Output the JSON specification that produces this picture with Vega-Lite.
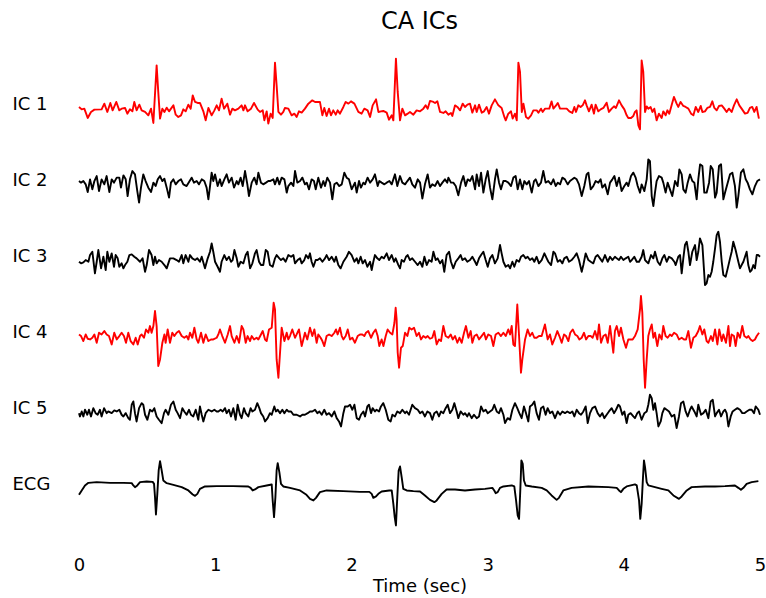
{
"$schema": "https://vega.github.io/schema/vega-lite/v6.json",
"padding": {"left": 12, "top": 9, "right": 0, "bottom": 0},
"background": "white",
"title": {"text": "CA ICs", "fontSize": 24, "font": "DejaVu Sans", "fontWeight": "normal", "color": "black", "anchor": "middle", "frame": "group", "offset": 24},
"config": {"view": {"stroke": null}, "axis": {"grid": false}},
"bounds": "flush",
"spacing": 0,
"datasets": {
"ic1": [
{"t":0.000,"v":-4.3},{"t":0.020,"v":-6.7},{"t":0.039,"v":-6},{"t":0.064,"v":-15.3},{"t":0.088,"v":-9.3},{"t":0.113,"v":-7},{"t":0.166,"v":-6.7},{"t":0.186,"v":-1},{"t":0.208,"v":-9.3},{"t":0.230,"v":-0.3},{"t":0.247,"v":-7.7},{"t":0.274,"v":0.7},{"t":0.296,"v":-7.7},{"t":0.313,"v":-6},{"t":0.338,"v":-5.3},{"t":0.355,"v":-11},{"t":0.374,"v":-6.7},{"t":0.392,"v":-8.7},{"t":0.406,"v":0.7},{"t":0.423,"v":-7.7},{"t":0.443,"v":-2},{"t":0.460,"v":-7.7},{"t":0.485,"v":-9.3},{"t":0.509,"v":-12.7},{"t":0.529,"v":-6},{"t":0.546,"v":-20.3},{"t":0.570,"v":37.3},{"t":0.582,"v":10.7},{"t":0.595,"v":-16},{"t":0.612,"v":-6},{"t":0.627,"v":-9.3},{"t":0.644,"v":-5},{"t":0.661,"v":-8.7},{"t":0.693,"v":-2.7},{"t":0.710,"v":-12},{"t":0.729,"v":-14.3},{"t":0.749,"v":-12.7},{"t":0.766,"v":-6.7},{"t":0.783,"v":-8.7},{"t":0.803,"v":-2},{"t":0.820,"v":-6},{"t":0.835,"v":7.3},{"t":0.852,"v":0.7},{"t":0.871,"v":-0.3},{"t":0.888,"v":-0.3},{"t":0.913,"v":-8.7},{"t":0.930,"v":-17.7},{"t":0.950,"v":-5.3},{"t":0.974,"v":-12.7},{"t":0.994,"v":-7.7},{"t":1.011,"v":-2.7},{"t":1.028,"v":-7.7},{"t":1.047,"v":4},{"t":1.065,"v":-6},{"t":1.089,"v":-1},{"t":1.109,"v":-12},{"t":1.126,"v":-6},{"t":1.145,"v":-7.7},{"t":1.170,"v":-6},{"t":1.194,"v":-2.7},{"t":1.207,"v":-7.7},{"t":1.219,"v":-2.7},{"t":1.238,"v":-8.7},{"t":1.263,"v":-6},{"t":1.285,"v":-0.3},{"t":1.312,"v":-7},{"t":1.329,"v":-9.3},{"t":1.349,"v":-7.7},{"t":1.361,"v":-17.7},{"t":1.378,"v":-8.7},{"t":1.390,"v":-21},{"t":1.407,"v":-11},{"t":1.422,"v":-15.3},{"t":1.439,"v":40},{"t":1.451,"v":17.3},{"t":1.464,"v":-9.3},{"t":1.483,"v":-12},{"t":1.500,"v":-9.3},{"t":1.512,"v":-5.3},{"t":1.537,"v":-6},{"t":1.561,"v":-12.7},{"t":1.581,"v":-11},{"t":1.598,"v":-14.3},{"t":1.615,"v":-8.7},{"t":1.635,"v":-10},{"t":1.659,"v":-6},{"t":1.684,"v":-1},{"t":1.713,"v":2.3},{"t":1.733,"v":0.7},{"t":1.769,"v":0.7},{"t":1.787,"v":-12.7},{"t":1.801,"v":-5.3},{"t":1.818,"v":-13.3},{"t":1.836,"v":-6},{"t":1.850,"v":-12.7},{"t":1.867,"v":-7.7},{"t":1.885,"v":-12},{"t":1.899,"v":-7.7},{"t":1.916,"v":-11},{"t":1.941,"v":-4.3},{"t":1.958,"v":0.7},{"t":1.978,"v":-1},{"t":1.997,"v":1.3},{"t":2.022,"v":-1},{"t":2.051,"v":-9.3},{"t":2.075,"v":-11},{"t":2.095,"v":-6},{"t":2.119,"v":-7.7},{"t":2.137,"v":-14.3},{"t":2.156,"v":-2.7},{"t":2.181,"v":3.3},{"t":2.198,"v":-9.3},{"t":2.217,"v":-8.7},{"t":2.234,"v":-8.3},{"t":2.259,"v":-10},{"t":2.276,"v":-17},{"t":2.296,"v":-12.7},{"t":2.308,"v":-17.7},{"t":2.327,"v":44},{"t":2.340,"v":10.7},{"t":2.357,"v":-17.7},{"t":2.374,"v":-6},{"t":2.394,"v":-12.7},{"t":2.413,"v":-11},{"t":2.430,"v":-9.3},{"t":2.455,"v":-12},{"t":2.479,"v":-7.7},
{"t":2.504,"v":-8.7},{"t":2.528,"v":-6},{"t":2.545,"v":-2.7},{"t":2.560,"v":-6},{"t":2.577,"v":1.7},{"t":2.602,"v":0.7},{"t":2.614,"v":-0.3},{"t":2.631,"v":1.3},{"t":2.651,"v":-9.3},{"t":2.675,"v":-10.3},{"t":2.692,"v":-8.7},{"t":2.712,"v":-12},{"t":2.731,"v":-10.3},{"t":2.741,"v":-13.3},{"t":2.761,"v":-2.7},{"t":2.778,"v":-4.3},{"t":2.798,"v":-7.7},{"t":2.817,"v":-1},{"t":2.834,"v":-4.3},{"t":2.852,"v":-2},{"t":2.871,"v":-1},{"t":2.888,"v":-10},{"t":2.908,"v":-2.7},{"t":2.920,"v":-9.3},{"t":2.937,"v":-2},{"t":2.957,"v":-10},{"t":2.974,"v":-8.7},{"t":2.993,"v":-4.3},{"t":3.010,"v":-11},{"t":3.030,"v":-2.7},{"t":3.054,"v":3.3},{"t":3.079,"v":-2.7},{"t":3.103,"v":-5.3},{"t":3.123,"v":-14.3},{"t":3.133,"v":-17.7},{"t":3.152,"v":-11},{"t":3.172,"v":-8.7},{"t":3.184,"v":-16},{"t":3.201,"v":-11},{"t":3.214,"v":-17.7},{"t":3.226,"v":40},{"t":3.238,"v":30.7},{"t":3.251,"v":-9.3},{"t":3.263,"v":-1},{"t":3.282,"v":-14.3},{"t":3.299,"v":-16},{"t":3.319,"v":-12.7},{"t":3.336,"v":-7.7},{"t":3.361,"v":-7.7},{"t":3.373,"v":-10},{"t":3.392,"v":-6},{"t":3.404,"v":-9.3},{"t":3.422,"v":-6},{"t":3.453,"v":-6},{"t":3.470,"v":1.3},{"t":3.483,"v":-6},{"t":3.500,"v":-3.3},{"t":3.515,"v":-0.3},{"t":3.532,"v":-6},{"t":3.581,"v":-6},{"t":3.600,"v":-8.7},{"t":3.622,"v":-10.3},{"t":3.637,"v":-4.3},{"t":3.649,"v":-9.3},{"t":3.666,"v":-2.7},{"t":3.683,"v":-4.3},{"t":3.698,"v":-2.7},{"t":3.715,"v":2.3},{"t":3.727,"v":-2.7},{"t":3.744,"v":-8.7},{"t":3.764,"v":-2},{"t":3.781,"v":-11},{"t":3.793,"v":-2},{"t":3.813,"v":-8.7},{"t":3.830,"v":-6.7},{"t":3.850,"v":-5.3},{"t":3.874,"v":0},{"t":3.891,"v":-9.3},{"t":3.911,"v":-6},{"t":3.928,"v":-3.7},{"t":3.942,"v":-5.3},{"t":3.965,"v":2.3},{"t":3.984,"v":-2.7},{"t":4.004,"v":-6.7},{"t":4.021,"v":-12.7},{"t":4.033,"v":-15.3},{"t":4.053,"v":-15.3},{"t":4.070,"v":-13.3},{"t":4.082,"v":-9.3},{"t":4.094,"v":-7.7},{"t":4.107,"v":-22.7},{"t":4.119,"v":-26.7},{"t":4.131,"v":42.3},{"t":4.143,"v":30.7},{"t":4.156,"v":-9.3},{"t":4.168,"v":-3.7},{"t":4.180,"v":-6},{"t":4.197,"v":-4.3},{"t":4.210,"v":-9.3},{"t":4.224,"v":-6},{"t":4.241,"v":-17.7},{"t":4.258,"v":-11},{"t":4.278,"v":-15.3},{"t":4.290,"v":-8.7},{"t":4.307,"v":-12.7},{"t":4.320,"v":-7.7},{"t":4.334,"v":-11},{"t":4.351,"v":-2.7},{"t":4.368,"v":5.7},{"t":4.388,"v":-1},{"t":4.400,"v":-4.3},{"t":4.417,"v":0.7},{"t":4.437,"v":-3.3},{"t":4.454,"v":-4.3},{"t":4.474,"v":-6},{"t":4.494,"v":-11},{"t":4.511,"v":-12.7},{"t":4.528,"v":-4.3},{"t":4.547,"v":-9.3},{"t":4.565,"v":-3.3},{"t":4.577,"v":-9.3},{"t":4.596,"v":-8.7},{"t":4.613,"v":-5.3},{"t":4.633,"v":-4.3},{"t":4.650,"v":1.3},{"t":4.665,"v":-5.3},{"t":4.682,"v":-7.7},{"t":4.699,"v":-3.3},{"t":4.719,"v":-2.7},{"t":4.738,"v":-6},{"t":4.755,"v":-9.3},{"t":4.772,"v":-6},{"t":4.792,"v":-9.3},{"t":4.809,"v":-2.7},{"t":4.829,"v":3.3},{"t":4.848,"v":-2.7},{"t":4.865,"v":-6},{"t":4.890,"v":-11},{"t":4.909,"v":-10.3},{"t":4.926,"v":-5.3},{"t":4.943,"v":-4.3},{"t":4.958,"v":-9.3},{"t":4.975,"v":-4.3},{"t":4.992,"v":-16}
],
"ic2": [
{"t":0,"v":-2.4},{"t":0.015,"v":-4},{"t":0.032,"v":-2.4},{"t":0.049,"v":-5.7},{"t":0.064,"v":-13.4},{"t":0.081,"v":-0.7},{"t":0.098,"v":-10.7},{"t":0.113,"v":-2.4},{"t":0.130,"v":2.6},{"t":0.147,"v":-12.4},{"t":0.166,"v":-0.7},{"t":0.186,"v":-5.7},{"t":0.203,"v":2.6},{"t":0.223,"v":-13.4},{"t":0.240,"v":-0.7},{"t":0.257,"v":-4},{"t":0.277,"v":1},{"t":0.296,"v":1},{"t":0.308,"v":-9},{"t":0.326,"v":3.3},{"t":0.343,"v":-0.7},{"t":0.357,"v":-17.4},{"t":0.374,"v":-0.7},{"t":0.392,"v":7.6},{"t":0.411,"v":4.3},{"t":0.428,"v":-12.4},{"t":0.441,"v":-24},{"t":0.455,"v":-9},{"t":0.472,"v":4.3},{"t":0.489,"v":-2.4},{"t":0.509,"v":-9},{"t":0.529,"v":-13.4},{"t":0.546,"v":-4},{"t":0.563,"v":-7.4},{"t":0.578,"v":-0.7},{"t":0.595,"v":2.6},{"t":0.612,"v":-2.4},{"t":0.627,"v":0},{"t":0.644,"v":-9},{"t":0.661,"v":-19},{"t":0.675,"v":-4},{"t":0.693,"v":-0.7},{"t":0.710,"v":-5.7},{"t":0.729,"v":-2.4},{"t":0.749,"v":-0.7},{"t":0.766,"v":-5.7},{"t":0.790,"v":-7.4},{"t":0.808,"v":-3.4},{"t":0.827,"v":1},{"t":0.844,"v":-4},{"t":0.864,"v":-2.4},{"t":0.881,"v":-5.7},{"t":0.901,"v":-0.7},{"t":0.920,"v":-2.4},{"t":0.937,"v":-9},{"t":0.950,"v":-20.7},{"t":0.962,"v":-7.4},{"t":0.974,"v":6},{"t":0.986,"v":-2.4},{"t":0.999,"v":4.3},{"t":1.018,"v":-7.4},{"t":1.035,"v":-0.7},{"t":1.047,"v":-7.4},{"t":1.067,"v":-0.7},{"t":1.084,"v":4.3},{"t":1.101,"v":-4},{"t":1.121,"v":1},{"t":1.138,"v":-9},{"t":1.158,"v":-2.4},{"t":1.170,"v":-5.7},{"t":1.187,"v":1},{"t":1.202,"v":-7.4},{"t":1.219,"v":7.6},{"t":1.236,"v":-5.7},{"t":1.248,"v":-17.4},{"t":1.268,"v":-4},{"t":1.287,"v":1},{"t":1.304,"v":-5.7},{"t":1.317,"v":6},{"t":1.336,"v":-4},{"t":1.353,"v":-5.7},{"t":1.373,"v":-4},{"t":1.390,"v":-2.4},{"t":1.402,"v":-2.4},{"t":1.427,"v":-0.7},{"t":1.439,"v":-5.7},{"t":1.456,"v":1},{"t":1.471,"v":-5.7},{"t":1.488,"v":1},{"t":1.508,"v":-0.7},{"t":1.525,"v":-14},{"t":1.537,"v":-7.4},{"t":1.557,"v":-4},{"t":1.574,"v":-7.4},{"t":1.586,"v":7.6},{"t":1.603,"v":-4},{"t":1.623,"v":-2.4},{"t":1.640,"v":1},{"t":1.659,"v":-5.7},{"t":1.672,"v":-4},{"t":1.689,"v":-10.7},{"t":1.708,"v":-0.7},{"t":1.725,"v":-2.4},{"t":1.738,"v":-10.7},{"t":1.757,"v":1},{"t":1.777,"v":-9},{"t":1.794,"v":-2.4},{"t":1.806,"v":-7.4},{"t":1.823,"v":1},{"t":1.843,"v":-4},{"t":1.860,"v":-20.7},{"t":1.875,"v":-5.7},{"t":1.892,"v":-4},{"t":1.911,"v":-7.4},{"t":1.929,"v":-5.7},{"t":1.948,"v":6},{"t":1.965,"v":1},{"t":1.982,"v":-0.7},{"t":2.002,"v":-10.7},{"t":2.026,"v":-4},{"t":2.039,"v":-14},{"t":2.056,"v":-2.4},{"t":2.070,"v":-9},{"t":2.088,"v":-4},{"t":2.100,"v":-5.7},{"t":2.119,"v":1},{"t":2.137,"v":-4},{"t":2.156,"v":-0.7},{"t":2.173,"v":4.3},{"t":2.193,"v":-7.4},{"t":2.205,"v":-2.4},{"t":2.222,"v":-4},{"t":2.242,"v":-5.7},{"t":2.259,"v":-4},{"t":2.279,"v":-2.4},{"t":2.296,"v":-5.7},{"t":2.320,"v":4.3},{"t":2.337,"v":-7.4},{"t":2.357,"v":2.6},{"t":2.374,"v":-4},{"t":2.394,"v":-5.7},{"t":2.411,"v":-2.4},{"t":2.430,"v":1},{"t":2.447,"v":-5.7},{"t":2.467,"v":-9},
{"t":2.487,"v":-0.7},{"t":2.504,"v":-4},{"t":2.521,"v":-20},{"t":2.540,"v":-5.7},{"t":2.560,"v":4.3},{"t":2.577,"v":-9},{"t":2.594,"v":-5.7},{"t":2.614,"v":-7.4},{"t":2.633,"v":-2.4},{"t":2.651,"v":-7.4},{"t":2.668,"v":-4},{"t":2.687,"v":-0.7},{"t":2.704,"v":-4},{"t":2.712,"v":1},{"t":2.731,"v":-4},{"t":2.748,"v":-4},{"t":2.766,"v":-7.4},{"t":2.785,"v":-16.7},{"t":2.805,"v":-4},{"t":2.822,"v":2.6},{"t":2.839,"v":-7.4},{"t":2.854,"v":-0.7},{"t":2.871,"v":-2.4},{"t":2.888,"v":2.6},{"t":2.908,"v":-10.7},{"t":2.920,"v":4.3},{"t":2.937,"v":-7.4},{"t":2.952,"v":6},{"t":2.969,"v":-14},{"t":2.986,"v":-0.7},{"t":3.001,"v":7.6},{"t":3.018,"v":-9},{"t":3.035,"v":-20.7},{"t":3.054,"v":-0.7},{"t":3.067,"v":9.3},{"t":3.084,"v":-4},{"t":3.098,"v":-10.7},{"t":3.116,"v":-2.4},{"t":3.133,"v":-2.4},{"t":3.152,"v":-4},{"t":3.172,"v":-7.4},{"t":3.189,"v":1},{"t":3.206,"v":2.6},{"t":3.221,"v":-10.7},{"t":3.238,"v":-0.7},{"t":3.255,"v":-10.7},{"t":3.270,"v":-2.4},{"t":3.287,"v":-5.7},{"t":3.304,"v":-2.4},{"t":3.324,"v":-14},{"t":3.341,"v":-2.4},{"t":3.353,"v":-0.7},{"t":3.373,"v":-7.4},{"t":3.392,"v":-4},{"t":3.409,"v":7.6},{"t":3.426,"v":-4},{"t":3.446,"v":-2.4},{"t":3.466,"v":-5.7},{"t":3.483,"v":-0.7},{"t":3.500,"v":-7.4},{"t":3.515,"v":-4},{"t":3.532,"v":-5.7},{"t":3.549,"v":1},{"t":3.568,"v":-0.7},{"t":3.588,"v":-5.7},{"t":3.605,"v":-2.4},{"t":3.622,"v":-0.7},{"t":3.637,"v":1},{"t":3.654,"v":-0.7},{"t":3.671,"v":-5.7},{"t":3.691,"v":-17.4},{"t":3.710,"v":-7.4},{"t":3.727,"v":4.3},{"t":3.740,"v":6},{"t":3.757,"v":-10.7},{"t":3.776,"v":-7.4},{"t":3.793,"v":-2.4},{"t":3.813,"v":-4},{"t":3.830,"v":-0.7},{"t":3.842,"v":-9},{"t":3.862,"v":-5.7},{"t":3.882,"v":-15.7},{"t":3.899,"v":-4},{"t":3.916,"v":-0.7},{"t":3.931,"v":2.6},{"t":3.948,"v":-7.4},{"t":3.965,"v":1},{"t":3.984,"v":-12.4},{"t":4.004,"v":-7.4},{"t":4.021,"v":-4},{"t":4.033,"v":-7.4},{"t":4.053,"v":2.6},{"t":4.070,"v":6},{"t":4.087,"v":1},{"t":4.102,"v":-7.4},{"t":4.119,"v":-14},{"t":4.131,"v":-5.7},{"t":4.151,"v":-12.4},{"t":4.168,"v":-0.7},{"t":4.180,"v":19.3},{"t":4.192,"v":17.6},{"t":4.205,"v":-17.4},{"t":4.217,"v":-27.4},{"t":4.229,"v":-14},{"t":4.241,"v":-2.4},{"t":4.258,"v":2.6},{"t":4.278,"v":1},{"t":4.290,"v":-4},{"t":4.307,"v":-14},{"t":4.322,"v":-4},{"t":4.339,"v":-10.7},{"t":4.356,"v":-17.4},{"t":4.376,"v":-2.4},{"t":4.395,"v":-7.4},{"t":4.408,"v":9.3},{"t":4.425,"v":4.3},{"t":4.437,"v":-10.7},{"t":4.454,"v":-14},{"t":4.469,"v":-4},{"t":4.486,"v":4.3},{"t":4.503,"v":-2.4},{"t":4.518,"v":-4},{"t":4.535,"v":-20.7},{"t":4.547,"v":-0.7},{"t":4.560,"v":14.3},{"t":4.577,"v":12.6},{"t":4.591,"v":-14},{"t":4.608,"v":-14},{"t":4.626,"v":-4},{"t":4.638,"v":12.6},{"t":4.653,"v":9.3},{"t":4.670,"v":-19},{"t":4.682,"v":-14},{"t":4.699,"v":12.6},{"t":4.714,"v":14.3},{"t":4.731,"v":-20.7},{"t":4.743,"v":-14},{"t":4.763,"v":-4},{"t":4.780,"v":4.3},{"t":4.797,"v":6},{"t":4.816,"v":-7.4},{"t":4.829,"v":-29},{"t":4.841,"v":-17.4},{"t":4.860,"v":6},{"t":4.878,"v":9.3},{"t":4.895,"v":-0.7},{"t":4.909,"v":-4},{"t":4.926,"v":-10.7},{"t":4.944,"v":-15.7},{"t":4.963,"v":-7.4},{"t":4.980,"v":-2.4},{"t":5.000,"v":-0.7}
],
"ic3": [
{"t":0.000,"v":-7.1},{"t":0.015,"v":-8.7},{"t":0.032,"v":-7.7},{"t":0.049,"v":-5.4},{"t":0.069,"v":-7.1},{"t":0.081,"v":-0.4},{"t":0.098,"v":2.9},{"t":0.117,"v":-18.7},{"t":0.130,"v":-7.1},{"t":0.142,"v":4.6},{"t":0.162,"v":-13.7},{"t":0.179,"v":-2.1},{"t":0.196,"v":-15.4},{"t":0.208,"v":2.9},{"t":0.223,"v":-7.1},{"t":0.240,"v":1.3},{"t":0.257,"v":-12.1},{"t":0.269,"v":-0.4},{"t":0.284,"v":-3.7},{"t":0.296,"v":-12.1},{"t":0.313,"v":-8.7},{"t":0.326,"v":-13.7},{"t":0.338,"v":-10.4},{"t":0.355,"v":-7.1},{"t":0.370,"v":-0.4},{"t":0.387,"v":0.3},{"t":0.406,"v":-2.1},{"t":0.423,"v":-3.7},{"t":0.448,"v":-7.1},{"t":0.467,"v":-3.7},{"t":0.485,"v":-17.1},{"t":0.497,"v":-10.4},{"t":0.514,"v":4.6},{"t":0.533,"v":-0.4},{"t":0.546,"v":-10.4},{"t":0.558,"v":-2.1},{"t":0.570,"v":-8.7},{"t":0.587,"v":-5.4},{"t":0.607,"v":-7.1},{"t":0.627,"v":-10.4},{"t":0.644,"v":-13.7},{"t":0.668,"v":-3.7},{"t":0.693,"v":-3.7},{"t":0.717,"v":-5.4},{"t":0.734,"v":-7.1},{"t":0.754,"v":-0.4},{"t":0.766,"v":-8.7},{"t":0.783,"v":-0.4},{"t":0.803,"v":-7.1},{"t":0.815,"v":-0.4},{"t":0.832,"v":-3.7},{"t":0.852,"v":-5.4},{"t":0.869,"v":-3.7},{"t":0.888,"v":-7.1},{"t":0.901,"v":-2.1},{"t":0.925,"v":-13.7},{"t":0.945,"v":-3.7},{"t":0.962,"v":2.9},{"t":0.974,"v":11.3},{"t":0.986,"v":2.9},{"t":0.999,"v":-7.1},{"t":1.018,"v":-12.1},{"t":1.035,"v":-17.1},{"t":1.047,"v":-7.1},{"t":1.067,"v":-0.4},{"t":1.084,"v":-5.4},{"t":1.101,"v":-2.1},{"t":1.116,"v":-7.1},{"t":1.128,"v":-5.4},{"t":1.141,"v":4.6},{"t":1.158,"v":-3.7},{"t":1.170,"v":-12.1},{"t":1.187,"v":-7.1},{"t":1.207,"v":-8.7},{"t":1.224,"v":-0.4},{"t":1.238,"v":2.9},{"t":1.256,"v":-13.7},{"t":1.273,"v":-8.7},{"t":1.292,"v":1.3},{"t":1.304,"v":4.6},{"t":1.322,"v":-7.1},{"t":1.336,"v":-10.4},{"t":1.353,"v":-10.4},{"t":1.371,"v":4.6},{"t":1.385,"v":2.9},{"t":1.402,"v":-10.4},{"t":1.422,"v":-12.1},{"t":1.439,"v":-3.7},{"t":1.451,"v":-0.4},{"t":1.471,"v":-3.7},{"t":1.483,"v":-5.4},{"t":1.500,"v":-3.7},{"t":1.517,"v":-7.1},{"t":1.537,"v":-0.4},{"t":1.557,"v":-2.1},{"t":1.574,"v":-0.4},{"t":1.586,"v":-8.7},{"t":1.605,"v":-5.4},{"t":1.623,"v":-3.7},{"t":1.635,"v":-8.7},{"t":1.654,"v":-5.4},{"t":1.667,"v":-0.4},{"t":1.684,"v":-3.7},{"t":1.696,"v":1.3},{"t":1.708,"v":-7.1},{"t":1.721,"v":-12.1},{"t":1.738,"v":-5.4},{"t":1.752,"v":-5.4},{"t":1.769,"v":-3.7},{"t":1.787,"v":-7.1},{"t":1.806,"v":-3.7},{"t":1.818,"v":-0.4},{"t":1.836,"v":-5.4},{"t":1.855,"v":-2.1},{"t":1.875,"v":-7.1},{"t":1.887,"v":-2.1},{"t":1.904,"v":-10.4},{"t":1.921,"v":-13.7},{"t":1.941,"v":-7.1},{"t":1.965,"v":-2.1},{"t":1.982,"v":2.9},{"t":2.002,"v":-0.4},{"t":2.022,"v":-7.1},{"t":2.039,"v":-3.7},{"t":2.051,"v":-8.7},{"t":2.068,"v":-2.1},{"t":2.083,"v":-8.7},{"t":2.100,"v":-5.4},{"t":2.117,"v":-12.1},{"t":2.137,"v":-7.1},{"t":2.149,"v":-15.4},{"t":2.161,"v":-7.1},{"t":2.173,"v":-0.4},{"t":2.190,"v":-3.7},{"t":2.205,"v":-5.4},{"t":2.222,"v":-2.1},{"t":2.239,"v":-3.7},{"t":2.259,"v":1.3},{"t":2.276,"v":-5.4},{"t":2.296,"v":-0.4},{"t":2.313,"v":-7.1},{"t":2.325,"v":-3.7},{"t":2.345,"v":-10.4},{"t":2.357,"v":-13.7},{"t":2.369,"v":-5.4},{"t":2.386,"v":-7.1},{"t":2.401,"v":-2.1},{"t":2.413,"v":-0.4},{"t":2.430,"v":-5.4},{"t":2.447,"v":-3.7},{"t":2.467,"v":-7.1},
{"t":2.487,"v":-10.4},{"t":2.504,"v":-7.1},{"t":2.521,"v":-12.1},{"t":2.536,"v":-2.1},{"t":2.553,"v":-10.4},{"t":2.570,"v":-5.4},{"t":2.589,"v":-7.1},{"t":2.602,"v":2.9},{"t":2.619,"v":-5.4},{"t":2.633,"v":-3.7},{"t":2.651,"v":-8.7},{"t":2.668,"v":-5.4},{"t":2.682,"v":-17.1},{"t":2.699,"v":-0.4},{"t":2.717,"v":2.9},{"t":2.731,"v":-7.1},{"t":2.748,"v":-13.7},{"t":2.766,"v":-7.1},{"t":2.785,"v":-3.7},{"t":2.802,"v":-0.4},{"t":2.815,"v":-5.4},{"t":2.834,"v":-3.7},{"t":2.851,"v":-7.1},{"t":2.871,"v":-5.4},{"t":2.888,"v":-2.1},{"t":2.908,"v":-7.1},{"t":2.920,"v":-10.4},{"t":2.937,"v":-3.7},{"t":2.952,"v":-0.4},{"t":2.969,"v":2.9},{"t":2.986,"v":-5.4},{"t":3.001,"v":-12.1},{"t":3.018,"v":-3.7},{"t":3.035,"v":-0.4},{"t":3.054,"v":-8.7},{"t":3.074,"v":-3.7},{"t":3.091,"v":9.6},{"t":3.103,"v":1.3},{"t":3.116,"v":-7.1},{"t":3.133,"v":-12.1},{"t":3.152,"v":-10.4},{"t":3.165,"v":-13.7},{"t":3.182,"v":-7.1},{"t":3.196,"v":-12.1},{"t":3.213,"v":-5.4},{"t":3.231,"v":-7.1},{"t":3.245,"v":-2.1},{"t":3.262,"v":-0.4},{"t":3.280,"v":-3.7},{"t":3.294,"v":-2.1},{"t":3.311,"v":-5.4},{"t":3.328,"v":-3.7},{"t":3.343,"v":-7.1},{"t":3.360,"v":-2.1},{"t":3.377,"v":-8.7},{"t":3.397,"v":-5.4},{"t":3.417,"v":1.3},{"t":3.434,"v":-3.7},{"t":3.446,"v":-7.1},{"t":3.466,"v":-10.4},{"t":3.483,"v":2.9},{"t":3.495,"v":1.3},{"t":3.515,"v":-7.1},{"t":3.532,"v":-5.4},{"t":3.549,"v":-8.7},{"t":3.563,"v":-3.7},{"t":3.581,"v":-2.1},{"t":3.598,"v":-7.1},{"t":3.617,"v":-5.4},{"t":3.637,"v":-2.1},{"t":3.654,"v":1.3},{"t":3.671,"v":-5.4},{"t":3.691,"v":-17.1},{"t":3.703,"v":-10.4},{"t":3.720,"v":1.3},{"t":3.740,"v":-5.4},{"t":3.757,"v":-7.1},{"t":3.776,"v":-8.7},{"t":3.793,"v":-2.1},{"t":3.808,"v":-0.4},{"t":3.825,"v":-3.7},{"t":3.842,"v":-7.1},{"t":3.862,"v":-0.4},{"t":3.882,"v":-7.1},{"t":3.899,"v":-2.1},{"t":3.916,"v":-5.4},{"t":3.935,"v":-2.1},{"t":3.948,"v":-3.7},{"t":3.965,"v":-5.4},{"t":3.979,"v":-2.1},{"t":3.997,"v":-5.4},{"t":4.014,"v":-3.7},{"t":4.033,"v":-2.1},{"t":4.046,"v":-7.1},{"t":4.058,"v":-5.4},{"t":4.077,"v":-2.1},{"t":4.095,"v":-7.1},{"t":4.112,"v":-7.1},{"t":4.131,"v":-2.1},{"t":4.143,"v":4.6},{"t":4.156,"v":-5.4},{"t":4.168,"v":-7.1},{"t":4.180,"v":-8.7},{"t":4.200,"v":-0.4},{"t":4.217,"v":-3.7},{"t":4.229,"v":2.9},{"t":4.249,"v":-7.1},{"t":4.266,"v":-10.4},{"t":4.283,"v":-3.7},{"t":4.298,"v":-0.4},{"t":4.315,"v":-7.1},{"t":4.332,"v":-2.1},{"t":4.352,"v":-3.7},{"t":4.371,"v":-7.1},{"t":4.381,"v":-10.4},{"t":4.400,"v":-2.1},{"t":4.413,"v":-0.4},{"t":4.425,"v":-18.7},{"t":4.437,"v":-3.7},{"t":4.449,"v":9.6},{"t":4.462,"v":12.9},{"t":4.474,"v":2.9},{"t":4.486,"v":-10.4},{"t":4.503,"v":2.9},{"t":4.523,"v":9.6},{"t":4.535,"v":-5.4},{"t":4.547,"v":2.9},{"t":4.559,"v":16.3},{"t":4.577,"v":9.6},{"t":4.596,"v":-30.4},{"t":4.608,"v":-28.7},{"t":4.621,"v":-20.4},{"t":4.633,"v":-22.1},{"t":4.645,"v":-17.1},{"t":4.657,"v":-7.1},{"t":4.670,"v":6.3},{"t":4.682,"v":19.6},{"t":4.694,"v":22.9},{"t":4.706,"v":12.9},{"t":4.719,"v":-7.1},{"t":4.731,"v":-20.4},{"t":4.748,"v":-22.1},{"t":4.763,"v":-13.7},{"t":4.780,"v":-3.7},{"t":4.792,"v":2.9},{"t":4.804,"v":12.9},{"t":4.821,"v":4.6},{"t":4.841,"v":-7.1},{"t":4.853,"v":-13.7},{"t":4.865,"v":-10.4},{"t":4.878,"v":-7.1},{"t":4.890,"v":-2.1},{"t":4.902,"v":2.9},{"t":4.914,"v":-10.4},{"t":4.927,"v":-17.1},{"t":4.939,"v":-15.4},{"t":4.951,"v":-10.4},{"t":4.963,"v":-13.7},{"t":4.976,"v":-0.4},{"t":4.988,"v":-0.4},{"t":5.000,"v":-2.1}
],
"ic4": [
{"t":0.000,"v":-3.8},{"t":0.015,"v":-5.4},{"t":0.032,"v":-10.4},{"t":0.049,"v":-3.8},{"t":0.064,"v":-8.1},{"t":0.081,"v":-8.8},{"t":0.098,"v":-7.1},{"t":0.113,"v":-3.8},{"t":0.130,"v":-12.1},{"t":0.147,"v":-2.1},{"t":0.166,"v":-3.8},{"t":0.186,"v":-0.4},{"t":0.203,"v":-3.8},{"t":0.220,"v":-5.4},{"t":0.240,"v":-13.8},{"t":0.259,"v":-2.1},{"t":0.277,"v":-8.8},{"t":0.296,"v":-5.4},{"t":0.313,"v":-2.1},{"t":0.330,"v":-5.4},{"t":0.345,"v":-12.1},{"t":0.362,"v":-2.1},{"t":0.379,"v":-10.4},{"t":0.399,"v":-13.8},{"t":0.416,"v":-7.1},{"t":0.431,"v":-13.8},{"t":0.448,"v":-5.4},{"t":0.460,"v":-3.8},{"t":0.477,"v":-7.1},{"t":0.492,"v":1.2},{"t":0.509,"v":-2.1},{"t":0.521,"v":4.6},{"t":0.533,"v":-2.1},{"t":0.546,"v":4.6},{"t":0.558,"v":19.6},{"t":0.570,"v":4.6},{"t":0.582,"v":-35.4},{"t":0.595,"v":-28.8},{"t":0.612,"v":-12.1},{"t":0.627,"v":-3.8},{"t":0.636,"v":-12.1},{"t":0.651,"v":1.2},{"t":0.668,"v":-12.1},{"t":0.685,"v":-2.1},{"t":0.700,"v":-5.4},{"t":0.717,"v":-2.1},{"t":0.734,"v":-0.4},{"t":0.754,"v":-5.4},{"t":0.773,"v":-7.1},{"t":0.790,"v":-5.4},{"t":0.803,"v":-8.8},{"t":0.815,"v":-2.1},{"t":0.832,"v":-7.1},{"t":0.847,"v":2.9},{"t":0.864,"v":-8.8},{"t":0.876,"v":-12.1},{"t":0.896,"v":-2.1},{"t":0.913,"v":-12.1},{"t":0.930,"v":-3.8},{"t":0.950,"v":-10.4},{"t":0.969,"v":-8.8},{"t":0.986,"v":-8.8},{"t":1.011,"v":-7.1},{"t":1.023,"v":-3.8},{"t":1.035,"v":1.2},{"t":1.052,"v":-5.4},{"t":1.072,"v":-12.1},{"t":1.092,"v":-3.8},{"t":1.109,"v":4.6},{"t":1.121,"v":-5.4},{"t":1.141,"v":-12.1},{"t":1.158,"v":-5.4},{"t":1.175,"v":-12.1},{"t":1.194,"v":4.6},{"t":1.207,"v":1.2},{"t":1.224,"v":-12.1},{"t":1.238,"v":-5.4},{"t":1.256,"v":-10.4},{"t":1.268,"v":-5.4},{"t":1.285,"v":-8.8},{"t":1.304,"v":-7.1},{"t":1.317,"v":-8.8},{"t":1.336,"v":-3.8},{"t":1.349,"v":-0.4},{"t":1.366,"v":-8.8},{"t":1.378,"v":-10.4},{"t":1.395,"v":1.2},{"t":1.415,"v":2.9},{"t":1.429,"v":27.9},{"t":1.439,"v":21.2},{"t":1.451,"v":-28.8},{"t":1.464,"v":-47.1},{"t":1.476,"v":-22.1},{"t":1.488,"v":2.9},{"t":1.508,"v":-10.4},{"t":1.525,"v":-2.1},{"t":1.537,"v":-8.8},{"t":1.549,"v":-5.4},{"t":1.566,"v":1.2},{"t":1.586,"v":-7.1},{"t":1.598,"v":-3.8},{"t":1.615,"v":1.2},{"t":1.635,"v":-15.4},{"t":1.647,"v":-8.8},{"t":1.659,"v":-2.1},{"t":1.676,"v":-8.8},{"t":1.696,"v":2.9},{"t":1.713,"v":-5.4},{"t":1.728,"v":1.2},{"t":1.745,"v":-12.1},{"t":1.757,"v":-3.8},{"t":1.774,"v":-7.1},{"t":1.787,"v":-10.4},{"t":1.801,"v":-15.4},{"t":1.818,"v":-5.4},{"t":1.836,"v":-3.8},{"t":1.855,"v":-5.4},{"t":1.875,"v":-2.1},{"t":1.887,"v":1.2},{"t":1.899,"v":-3.8},{"t":1.916,"v":2.9},{"t":1.929,"v":-5.4},{"t":1.941,"v":-8.8},{"t":1.958,"v":-5.4},{"t":1.973,"v":1.2},{"t":1.990,"v":-8.8},{"t":2.007,"v":-7.1},{"t":2.026,"v":-12.1},{"t":2.046,"v":-5.4},{"t":2.063,"v":-3.8},{"t":2.080,"v":-3.8},{"t":2.095,"v":-5.4},{"t":2.107,"v":-2.1},{"t":2.124,"v":-0.4},{"t":2.144,"v":-7.1},{"t":2.161,"v":-2.1},{"t":2.178,"v":1.2},{"t":2.193,"v":-5.4},{"t":2.205,"v":-15.4},{"t":2.222,"v":-8.8},{"t":2.235,"v":-15.4},{"t":2.252,"v":-5.4},{"t":2.266,"v":1.2},{"t":2.284,"v":-2.1},{"t":2.301,"v":-3.8},{"t":2.316,"v":7.9},{"t":2.325,"v":22.9},{"t":2.332,"v":11.2},{"t":2.340,"v":-22.1},{"t":2.350,"v":-37.1},{"t":2.364,"v":-17.1},{"t":2.377,"v":-15.4},{"t":2.394,"v":-2.1},{"t":2.411,"v":-5.4},{"t":2.425,"v":2.9},{"t":2.442,"v":1.2},{"t":2.460,"v":2.9},{"t":2.479,"v":-5.4},
{"t":2.496,"v":-2.1},{"t":2.511,"v":-8.8},{"t":2.528,"v":-5.4},{"t":2.545,"v":-7.1},{"t":2.560,"v":-5.4},{"t":2.577,"v":-8.1},{"t":2.594,"v":-7.1},{"t":2.609,"v":-0.4},{"t":2.626,"v":-13.8},{"t":2.643,"v":-8.8},{"t":2.658,"v":-10.4},{"t":2.675,"v":4.6},{"t":2.692,"v":-5.4},{"t":2.712,"v":-7.1},{"t":2.729,"v":-3.8},{"t":2.744,"v":-8.8},{"t":2.761,"v":-5.4},{"t":2.778,"v":-12.1},{"t":2.793,"v":-7.1},{"t":2.810,"v":-12.1},{"t":2.827,"v":-2.1},{"t":2.841,"v":4.6},{"t":2.859,"v":-7.1},{"t":2.876,"v":-0.4},{"t":2.888,"v":-12.1},{"t":2.903,"v":-5.4},{"t":2.920,"v":-3.8},{"t":2.937,"v":-8.8},{"t":2.956,"v":-5.4},{"t":2.974,"v":-2.1},{"t":2.988,"v":-8.8},{"t":3.005,"v":-3.8},{"t":3.025,"v":-5.4},{"t":3.042,"v":-15.4},{"t":3.059,"v":-3.8},{"t":3.079,"v":-2.1},{"t":3.098,"v":-5.4},{"t":3.116,"v":-2.1},{"t":3.133,"v":-5.4},{"t":3.152,"v":1.2},{"t":3.165,"v":-3.8},{"t":3.177,"v":4.6},{"t":3.189,"v":-13.8},{"t":3.201,"v":-15.4},{"t":3.218,"v":26.2},{"t":3.231,"v":-5.4},{"t":3.245,"v":-42.1},{"t":3.255,"v":-28.8},{"t":3.275,"v":-8.8},{"t":3.294,"v":1.2},{"t":3.311,"v":-5.4},{"t":3.328,"v":-2.1},{"t":3.343,"v":-7.1},{"t":3.360,"v":-7.1},{"t":3.377,"v":-5.4},{"t":3.397,"v":-5.4},{"t":3.421,"v":6.2},{"t":3.441,"v":-8.8},{"t":3.458,"v":-3.8},{"t":3.475,"v":-13.8},{"t":3.495,"v":-7.1},{"t":3.512,"v":-0.4},{"t":3.527,"v":-5.4},{"t":3.544,"v":-12.1},{"t":3.561,"v":-3.8},{"t":3.576,"v":-5.4},{"t":3.593,"v":-10.4},{"t":3.607,"v":-2.1},{"t":3.625,"v":1.2},{"t":3.642,"v":-3.8},{"t":3.659,"v":-5.4},{"t":3.674,"v":-8.8},{"t":3.691,"v":-7.1},{"t":3.708,"v":-2.1},{"t":3.723,"v":-8.8},{"t":3.740,"v":-5.4},{"t":3.757,"v":-5.4},{"t":3.771,"v":-7.1},{"t":3.789,"v":-0.4},{"t":3.806,"v":-8.8},{"t":3.818,"v":6.2},{"t":3.833,"v":-12.1},{"t":3.850,"v":-5.4},{"t":3.867,"v":-3.8},{"t":3.882,"v":-12.1},{"t":3.899,"v":4.6},{"t":3.923,"v":-22.1},{"t":3.935,"v":-0.4},{"t":3.948,"v":4.6},{"t":3.965,"v":-5.4},{"t":3.979,"v":2.9},{"t":3.997,"v":-8.8},{"t":4.016,"v":-17.1},{"t":4.033,"v":-8.8},{"t":4.046,"v":-8.8},{"t":4.065,"v":-8.8},{"t":4.082,"v":-5.4},{"t":4.102,"v":1.2},{"t":4.119,"v":21.2},{"t":4.126,"v":34.6},{"t":4.136,"v":17.9},{"t":4.146,"v":-28.8},{"t":4.156,"v":-57.1},{"t":4.168,"v":-28.8},{"t":4.180,"v":-5.4},{"t":4.192,"v":1.2},{"t":4.205,"v":6.2},{"t":4.217,"v":-7.1},{"t":4.229,"v":-2.1},{"t":4.246,"v":-15.4},{"t":4.261,"v":-3.8},{"t":4.278,"v":-8.8},{"t":4.290,"v":4.6},{"t":4.307,"v":-5.4},{"t":4.322,"v":-7.1},{"t":4.339,"v":-3.8},{"t":4.352,"v":-5.4},{"t":4.369,"v":-2.1},{"t":4.388,"v":-3.8},{"t":4.405,"v":-8.8},{"t":4.425,"v":-7.1},{"t":4.442,"v":-8.8},{"t":4.457,"v":-8.8},{"t":4.474,"v":-0.4},{"t":4.493,"v":-17.1},{"t":4.511,"v":-7.1},{"t":4.528,"v":-5.4},{"t":4.547,"v":-0.4},{"t":4.559,"v":4.6},{"t":4.577,"v":-3.8},{"t":4.591,"v":1.2},{"t":4.608,"v":-10.4},{"t":4.621,"v":-12.1},{"t":4.640,"v":-5.4},{"t":4.653,"v":-10.4},{"t":4.670,"v":1.2},{"t":4.687,"v":-13.8},{"t":4.701,"v":1.2},{"t":4.719,"v":-10.4},{"t":4.731,"v":-3.8},{"t":4.750,"v":-12.1},{"t":4.768,"v":4.6},{"t":4.780,"v":-15.4},{"t":4.792,"v":-3.8},{"t":4.809,"v":-5.4},{"t":4.821,"v":-15.4},{"t":4.836,"v":-2.1},{"t":4.853,"v":-7.1},{"t":4.870,"v":4.6},{"t":4.885,"v":-5.4},{"t":4.902,"v":-7.1},{"t":4.914,"v":-5.4},{"t":4.931,"v":-8.8},{"t":4.946,"v":-10.4},{"t":4.963,"v":-8.8},{"t":4.976,"v":-5.4},{"t":4.993,"v":-2.1}
],
"ic5": [
{"t":0,"v":-6.5},{"t":0.007,"v":-9.8},{"t":0.020,"v":-4.8},{"t":0.032,"v":-9.8},{"t":0.044,"v":-3.1},{"t":0.061,"v":-8.1},{"t":0.073,"v":-3.1},{"t":0.088,"v":-9.8},{"t":0.105,"v":-1.5},{"t":0.122,"v":-6.5},{"t":0.137,"v":-8.1},{"t":0.154,"v":-3.1},{"t":0.166,"v":-9.8},{"t":0.184,"v":-1.5},{"t":0.203,"v":-6.5},{"t":0.215,"v":-4.8},{"t":0.240,"v":-6.5},{"t":0.259,"v":-3.8},{"t":0.277,"v":-4.8},{"t":0.296,"v":-3.1},{"t":0.313,"v":-8.1},{"t":0.326,"v":-9.8},{"t":0.343,"v":-6.5},{"t":0.362,"v":-11.5},{"t":0.374,"v":-13.1},{"t":0.387,"v":1.9},{"t":0.399,"v":5.2},{"t":0.411,"v":-6.5},{"t":0.423,"v":-14.8},{"t":0.441,"v":-1.5},{"t":0.460,"v":3.5},{"t":0.472,"v":1.9},{"t":0.485,"v":-8.1},{"t":0.502,"v":-13.1},{"t":0.521,"v":-3.1},{"t":0.538,"v":-4.8},{"t":0.553,"v":-1.5},{"t":0.570,"v":-9.8},{"t":0.587,"v":-13.1},{"t":0.607,"v":-16.5},{"t":0.624,"v":-6.5},{"t":0.636,"v":-3.1},{"t":0.656,"v":-8.1},{"t":0.675,"v":1.9},{"t":0.693,"v":5.2},{"t":0.710,"v":-3.1},{"t":0.724,"v":-6.5},{"t":0.742,"v":-11.5},{"t":0.759,"v":-1.5},{"t":0.773,"v":-4.8},{"t":0.790,"v":-8.1},{"t":0.808,"v":-3.1},{"t":0.822,"v":-8.1},{"t":0.839,"v":-9.8},{"t":0.857,"v":-3.1},{"t":0.876,"v":-13.1},{"t":0.888,"v":0.2},{"t":0.901,"v":-8.1},{"t":0.913,"v":-14.8},{"t":0.930,"v":-6.5},{"t":0.950,"v":-3.1},{"t":0.974,"v":-4.8},{"t":0.994,"v":-3.1},{"t":1.011,"v":-4.8},{"t":1.023,"v":-4.8},{"t":1.040,"v":-3.1},{"t":1.055,"v":-4.8},{"t":1.072,"v":-1.5},{"t":1.084,"v":-6.5},{"t":1.101,"v":-3.1},{"t":1.116,"v":-9.8},{"t":1.133,"v":-1.5},{"t":1.150,"v":-13.1},{"t":1.165,"v":1.9},{"t":1.182,"v":-8.1},{"t":1.194,"v":-11.5},{"t":1.211,"v":-1.5},{"t":1.224,"v":-6.5},{"t":1.243,"v":-9.8},{"t":1.260,"v":-1.5},{"t":1.273,"v":-4.8},{"t":1.292,"v":-3.1},{"t":1.309,"v":3.5},{"t":1.324,"v":-1.5},{"t":1.336,"v":-6.5},{"t":1.353,"v":-9.8},{"t":1.366,"v":-14.8},{"t":1.385,"v":-11.5},{"t":1.402,"v":-6.5},{"t":1.415,"v":-8.1},{"t":1.434,"v":0.2},{"t":1.446,"v":-4.8},{"t":1.459,"v":-3.1},{"t":1.476,"v":-6.5},{"t":1.493,"v":-3.1},{"t":1.508,"v":-6.5},{"t":1.525,"v":-3.1},{"t":1.537,"v":-4.8},{"t":1.557,"v":-4.8},{"t":1.574,"v":-8.1},{"t":1.598,"v":-8.1},{"t":1.623,"v":-9.8},{"t":1.640,"v":-8.1},{"t":1.659,"v":-8.1},{"t":1.679,"v":-6.5},{"t":1.696,"v":-4.8},{"t":1.713,"v":-4.8},{"t":1.733,"v":-3.1},{"t":1.750,"v":-6.5},{"t":1.765,"v":-4.8},{"t":1.782,"v":-8.1},{"t":1.801,"v":-3.1},{"t":1.818,"v":-8.1},{"t":1.836,"v":-6.5},{"t":1.855,"v":-9.8},{"t":1.875,"v":-4.8},{"t":1.892,"v":-11.5},{"t":1.909,"v":-14.8},{"t":1.924,"v":-19.8},{"t":1.941,"v":-6.5},{"t":1.953,"v":0.2},{"t":1.973,"v":0.2},{"t":1.990,"v":1.9},{"t":2.007,"v":-3.1},{"t":2.022,"v":1.9},{"t":2.039,"v":-11.5},{"t":2.056,"v":-13.1},{"t":2.070,"v":-8.1},{"t":2.088,"v":-4.8},{"t":2.100,"v":-9.8},{"t":2.117,"v":0.2},{"t":2.129,"v":1.9},{"t":2.144,"v":-6.5},{"t":2.156,"v":-1.5},{"t":2.173,"v":-4.8},{"t":2.185,"v":-3.1},{"t":2.203,"v":-4.8},{"t":2.217,"v":0.2},{"t":2.234,"v":3.5},{"t":2.252,"v":-3.1},{"t":2.271,"v":-13.1},{"t":2.288,"v":-14.8},{"t":2.301,"v":-8.1},{"t":2.320,"v":-9.8},{"t":2.337,"v":-4.8},{"t":2.357,"v":-6.5},{"t":2.374,"v":-3.1},{"t":2.394,"v":-6.5},{"t":2.406,"v":-4.8},{"t":2.423,"v":-8.1},{"t":2.435,"v":-3.1},{"t":2.447,"v":1.9},{"t":2.467,"v":-1.5},
{"t":2.487,"v":-3.1},{"t":2.504,"v":-6.5},{"t":2.521,"v":-4.8},{"t":2.540,"v":-9.8},{"t":2.558,"v":-4.8},{"t":2.577,"v":-6.5},{"t":2.594,"v":-13.1},{"t":2.609,"v":-6.5},{"t":2.626,"v":-4.8},{"t":2.643,"v":-9.8},{"t":2.658,"v":-4.8},{"t":2.675,"v":-6.5},{"t":2.692,"v":-1.5},{"t":2.707,"v":1.9},{"t":2.724,"v":-6.5},{"t":2.741,"v":-3.1},{"t":2.756,"v":3.5},{"t":2.773,"v":-4.8},{"t":2.785,"v":-11.5},{"t":2.802,"v":-4.8},{"t":2.822,"v":-8.1},{"t":2.834,"v":-6.5},{"t":2.851,"v":-9.8},{"t":2.863,"v":-6.5},{"t":2.883,"v":-11.5},{"t":2.900,"v":-8.1},{"t":2.920,"v":-11.5},{"t":2.937,"v":-9.8},{"t":2.952,"v":0.2},{"t":2.969,"v":-4.8},{"t":2.986,"v":-3.1},{"t":3.001,"v":-6.5},{"t":3.018,"v":-4.8},{"t":3.035,"v":-3.1},{"t":3.049,"v":1.9},{"t":3.067,"v":-4.8},{"t":3.084,"v":-6.5},{"t":3.098,"v":-1.5},{"t":3.116,"v":-8.1},{"t":3.128,"v":-16.5},{"t":3.147,"v":-11.5},{"t":3.165,"v":-13.1},{"t":3.182,"v":-3.1},{"t":3.201,"v":3.5},{"t":3.218,"v":-1.5},{"t":3.233,"v":-6.5},{"t":3.250,"v":-11.5},{"t":3.267,"v":0.2},{"t":3.282,"v":-6.5},{"t":3.299,"v":-14.8},{"t":3.311,"v":0.2},{"t":3.328,"v":1.9},{"t":3.343,"v":5.2},{"t":3.360,"v":-6.5},{"t":3.377,"v":-13.1},{"t":3.392,"v":-1.5},{"t":3.409,"v":0.2},{"t":3.426,"v":-8.1},{"t":3.441,"v":-1.5},{"t":3.458,"v":-6.5},{"t":3.475,"v":-4.8},{"t":3.495,"v":-11.5},{"t":3.515,"v":-4.8},{"t":3.532,"v":-8.1},{"t":3.549,"v":-4.8},{"t":3.568,"v":-6.5},{"t":3.585,"v":-4.8},{"t":3.605,"v":-6.5},{"t":3.622,"v":-4.8},{"t":3.637,"v":-9.8},{"t":3.654,"v":-3.1},{"t":3.671,"v":-6.5},{"t":3.686,"v":-8.1},{"t":3.703,"v":-4.8},{"t":3.720,"v":0.2},{"t":3.735,"v":-16.5},{"t":3.752,"v":-6.5},{"t":3.769,"v":-1.5},{"t":3.789,"v":0.2},{"t":3.808,"v":-6.5},{"t":3.825,"v":-9.8},{"t":3.842,"v":-6.5},{"t":3.857,"v":-11.5},{"t":3.874,"v":-8.1},{"t":3.891,"v":-4.8},{"t":3.911,"v":-1.5},{"t":3.928,"v":-6.5},{"t":3.943,"v":-3.1},{"t":3.960,"v":1.9},{"t":3.972,"v":0.2},{"t":3.989,"v":-8.1},{"t":4.004,"v":-4.8},{"t":4.021,"v":-16.5},{"t":4.033,"v":-8.1},{"t":4.050,"v":-6.5},{"t":4.070,"v":-9.8},{"t":4.082,"v":-11.5},{"t":4.099,"v":-6.5},{"t":4.112,"v":-4.8},{"t":4.131,"v":-13.1},{"t":4.151,"v":-6.5},{"t":4.168,"v":-4.8},{"t":4.180,"v":1.9},{"t":4.192,"v":11.9},{"t":4.205,"v":8.5},{"t":4.217,"v":-3.1},{"t":4.229,"v":3.5},{"t":4.241,"v":-6.5},{"t":4.254,"v":-19.8},{"t":4.271,"v":-14.8},{"t":4.283,"v":-6.5},{"t":4.298,"v":-1.5},{"t":4.315,"v":-3.1},{"t":4.332,"v":-4.8},{"t":4.352,"v":-9.8},{"t":4.371,"v":-8.1},{"t":4.388,"v":-21.5},{"t":4.405,"v":-9.8},{"t":4.420,"v":3.5},{"t":4.437,"v":5.2},{"t":4.454,"v":-4.8},{"t":4.469,"v":-9.8},{"t":4.486,"v":-3.1},{"t":4.498,"v":0.2},{"t":4.518,"v":-4.8},{"t":4.535,"v":-9.8},{"t":4.547,"v":1.9},{"t":4.567,"v":-8.1},{"t":4.584,"v":-6.5},{"t":4.601,"v":-3.1},{"t":4.621,"v":-11.5},{"t":4.638,"v":5.2},{"t":4.653,"v":6.9},{"t":4.670,"v":-9.8},{"t":4.682,"v":-6.5},{"t":4.699,"v":-3.1},{"t":4.714,"v":-9.8},{"t":4.731,"v":-4.8},{"t":4.743,"v":-3.1},{"t":4.755,"v":-6.5},{"t":4.768,"v":-19.8},{"t":4.785,"v":-9.8},{"t":4.799,"v":-4.8},{"t":4.816,"v":-3.1},{"t":4.834,"v":-1.5},{"t":4.853,"v":-3.1},{"t":4.870,"v":-6.5},{"t":4.885,"v":-6.5},{"t":4.902,"v":-4.8},{"t":4.922,"v":-3.1},{"t":4.939,"v":-3.1},{"t":4.956,"v":-6.5},{"t":4.968,"v":0.2},{"t":4.988,"v":-3.1},{"t":5.000,"v":-8.1}
],
"ecg": [
{"t":0,"v":-12.2},{"t":0.020,"v":-7.8},{"t":0.044,"v":-2.8},{"t":0.069,"v":-0.2},{"t":0.130,"v":0.5},{"t":0.228,"v":-0.2},{"t":0.326,"v":-0.2},{"t":0.387,"v":-0.5},{"t":0.399,"v":-2.8},{"t":0.411,"v":-4.5},{"t":0.428,"v":-2.8},{"t":0.448,"v":0.5},{"t":0.497,"v":1.2},{"t":0.541,"v":0.8},{"t":0.551,"v":-1.2},{"t":0.558,"v":-14.5},{"t":0.565,"v":-31.8},{"t":0.575,"v":-11.2},{"t":0.585,"v":12.2},{"t":0.595,"v":21.5},{"t":0.607,"v":12.2},{"t":0.619,"v":2.2},{"t":0.644,"v":-0.5},{"t":0.693,"v":-2.2},{"t":0.754,"v":-4.5},{"t":0.803,"v":-7.8},{"t":0.835,"v":-11.8},{"t":0.852,"v":-13.2},{"t":0.869,"v":-11.2},{"t":0.888,"v":-6.2},{"t":0.925,"v":-3.8},{"t":1.011,"v":-3.5},{"t":1.133,"v":-3.5},{"t":1.243,"v":-3.8},{"t":1.260,"v":-5.2},{"t":1.275,"v":-7.8},{"t":1.292,"v":-6.8},{"t":1.317,"v":-4.5},{"t":1.378,"v":-2.8},{"t":1.415,"v":-1.8},{"t":1.422,"v":-17.8},{"t":1.432,"v":-34.5},{"t":1.442,"v":-14.5},{"t":1.451,"v":12.2},{"t":1.459,"v":19.5},{"t":1.471,"v":10.5},{"t":1.483,"v":-1.2},{"t":1.500,"v":-3.8},{"t":1.549,"v":-5.2},{"t":1.623,"v":-7.8},{"t":1.667,"v":-11.8},{"t":1.696,"v":-16.2},{"t":1.721,"v":-17.8},{"t":1.740,"v":-15.2},{"t":1.769,"v":-9.5},{"t":1.818,"v":-7.8},{"t":1.941,"v":-8.5},{"t":2.063,"v":-9.2},{"t":2.132,"v":-9.2},{"t":2.149,"v":-11.2},{"t":2.161,"v":-15.2},{"t":2.181,"v":-13.8},{"t":2.198,"v":-11.2},{"t":2.222,"v":-8.8},{"t":2.278,"v":-7.8},{"t":2.296,"v":-7.8},{"t":2.308,"v":-21.2},{"t":2.318,"v":-34.5},{"t":2.327,"v":-42.8},{"t":2.337,"v":-14.5},{"t":2.347,"v":12.2},{"t":2.357,"v":16.2},{"t":2.369,"v":5.5},{"t":2.381,"v":-6.2},{"t":2.406,"v":-7.8},{"t":2.455,"v":-8.5},{"t":2.504,"v":-8.8},
{"t":2.540,"v":-12.8},{"t":2.577,"v":-17.2},{"t":2.609,"v":-19.5},{"t":2.626,"v":-17.8},{"t":2.663,"v":-11.2},{"t":2.699,"v":-6.8},{"t":2.761,"v":-6.8},{"t":2.834,"v":-7.8},{"t":2.908,"v":-6.8},{"t":2.981,"v":-6.2},{"t":3.035,"v":-5.2},{"t":3.049,"v":-7.8},{"t":3.059,"v":-10.5},{"t":3.074,"v":-9.5},{"t":3.091,"v":-5.2},{"t":3.116,"v":-3.8},{"t":3.177,"v":-2.8},{"t":3.196,"v":-3.8},{"t":3.209,"v":-17.8},{"t":3.221,"v":-32.8},{"t":3.231,"v":-36.2},{"t":3.240,"v":-7.8},{"t":3.248,"v":22.2},{"t":3.258,"v":18.8},{"t":3.267,"v":2.2},{"t":3.280,"v":-2.8},{"t":3.324,"v":-3.8},{"t":3.397,"v":-5.2},{"t":3.434,"v":-7.8},{"t":3.470,"v":-12.8},{"t":3.507,"v":-17.2},{"t":3.524,"v":-15.2},{"t":3.556,"v":-7.8},{"t":3.617,"v":-5.2},{"t":3.740,"v":-3.8},{"t":3.886,"v":-4.5},{"t":3.948,"v":-5.2},{"t":3.965,"v":-7.8},{"t":3.979,"v":-9.5},{"t":3.997,"v":-6.2},{"t":4.021,"v":-3.8},{"t":4.082,"v":-1.8},{"t":4.095,"v":-2.8},{"t":4.112,"v":-17.8},{"t":4.121,"v":-36.2},{"t":4.131,"v":-21.2},{"t":4.141,"v":5.5},{"t":4.148,"v":22.2},{"t":4.156,"v":15.5},{"t":4.168,"v":0.5},{"t":4.180,"v":-2.8},{"t":4.229,"v":-4.5},{"t":4.278,"v":-6.2},{"t":4.327,"v":-7.8},{"t":4.364,"v":-12.8},{"t":4.405,"v":-16.2},{"t":4.425,"v":-13.8},{"t":4.462,"v":-7.8},{"t":4.498,"v":-4.5},{"t":4.596,"v":-3.8},{"t":4.670,"v":-3.8},{"t":4.743,"v":-3.5},{"t":4.816,"v":-2.8},{"t":4.841,"v":-5.2},{"t":4.860,"v":-7.2},{"t":4.878,"v":-5.2},{"t":4.902,"v":-1.2},{"t":4.939,"v":0.5},{"t":4.988,"v":1.5}
]
},
"vconcat": [
{"data": {"name": "ic1"}, "width": 681, "height": 75.3,
 "mark": {"type": "line", "color": "#ff0000", "strokeWidth": 1.9, "strokeJoin": "round", "clip": false},
 "encoding": {
  "x": {"field": "t", "type": "quantitative", "scale": {"domain": [0, 5], "nice": false, "zero": false}, "axis": null},
  "y": {"field": "v", "type": "quantitative", "scale": {"domain": [-37.65, 37.65], "nice": false, "zero": false},
        "axis": {"title": "IC 1", "labels": false, "ticks": false, "domain": false, "grid": false, "titleAngle": 0, "titleAlign": "left", "titleBaseline": "middle", "titleX": -67, "titleY": 39.5, "titleFont": "DejaVu Sans", "titleFontSize": 18, "titleFontWeight": "normal", "titleColor": "black"}}
 }},
{"data": {"name": "ic2"}, "width": 681, "height": 75.3,
 "mark": {"type": "line", "color": "black", "strokeWidth": 1.9, "strokeJoin": "round", "clip": false},
 "encoding": {
  "x": {"field": "t", "type": "quantitative", "scale": {"domain": [0, 5], "nice": false, "zero": false}, "axis": null},
  "y": {"field": "v", "type": "quantitative", "scale": {"domain": [-37.65, 37.65], "nice": false, "zero": false},
        "axis": {"title": "IC 2", "labels": false, "ticks": false, "domain": false, "grid": false, "titleAngle": 0, "titleAlign": "left", "titleBaseline": "middle", "titleX": -67, "titleY": 39.5, "titleFont": "DejaVu Sans", "titleFontSize": 18, "titleFontWeight": "normal", "titleColor": "black"}}
 }},
{"data": {"name": "ic3"}, "width": 681, "height": 75.3,
 "mark": {"type": "line", "color": "black", "strokeWidth": 1.9, "strokeJoin": "round", "clip": false},
 "encoding": {
  "x": {"field": "t", "type": "quantitative", "scale": {"domain": [0, 5], "nice": false, "zero": false}, "axis": null},
  "y": {"field": "v", "type": "quantitative", "scale": {"domain": [-37.65, 37.65], "nice": false, "zero": false},
        "axis": {"title": "IC 3", "labels": false, "ticks": false, "domain": false, "grid": false, "titleAngle": 0, "titleAlign": "left", "titleBaseline": "middle", "titleX": -67, "titleY": 39.5, "titleFont": "DejaVu Sans", "titleFontSize": 18, "titleFontWeight": "normal", "titleColor": "black"}}
 }},
{"data": {"name": "ic4"}, "width": 681, "height": 75.3,
 "mark": {"type": "line", "color": "#ff0000", "strokeWidth": 1.9, "strokeJoin": "round", "clip": false},
 "encoding": {
  "x": {"field": "t", "type": "quantitative", "scale": {"domain": [0, 5], "nice": false, "zero": false}, "axis": null},
  "y": {"field": "v", "type": "quantitative", "scale": {"domain": [-37.65, 37.65], "nice": false, "zero": false},
        "axis": {"title": "IC 4", "labels": false, "ticks": false, "domain": false, "grid": false, "titleAngle": 0, "titleAlign": "left", "titleBaseline": "middle", "titleX": -67, "titleY": 39.5, "titleFont": "DejaVu Sans", "titleFontSize": 18, "titleFontWeight": "normal", "titleColor": "black"}}
 }},
{"data": {"name": "ic5"}, "width": 681, "height": 75.3,
 "mark": {"type": "line", "color": "black", "strokeWidth": 1.9, "strokeJoin": "round", "clip": false},
 "encoding": {
  "x": {"field": "t", "type": "quantitative", "scale": {"domain": [0, 5], "nice": false, "zero": false}, "axis": null},
  "y": {"field": "v", "type": "quantitative", "scale": {"domain": [-37.65, 37.65], "nice": false, "zero": false},
        "axis": {"title": "IC 5", "labels": false, "ticks": false, "domain": false, "grid": false, "titleAngle": 0, "titleAlign": "left", "titleBaseline": "middle", "titleX": -67, "titleY": 39.5, "titleFont": "DejaVu Sans", "titleFontSize": 18, "titleFontWeight": "normal", "titleColor": "black"}}
 }},
{"data": {"name": "ecg"}, "width": 681, "height": 75.3,
 "mark": {"type": "line", "color": "black", "strokeWidth": 1.9, "strokeJoin": "round", "clip": false},
 "encoding": {
  "x": {"field": "t", "type": "quantitative", "scale": {"domain": [0, 5], "nice": false, "zero": false},
        "axis": {"title": "Time (sec)", "values": [0, 1, 2, 3, 4, 5], "format": "d", "labelFlush": false, "labelOverlap": false, "ticks": false, "domain": false, "grid": false, "labelPadding": 36, "labelFont": "DejaVu Sans", "labelFontSize": 18, "labelColor": "black", "titleFont": "DejaVu Sans", "titleFontSize": 18, "titleFontWeight": "normal", "titleColor": "black", "titlePadding": 3}},
  "y": {"field": "v", "type": "quantitative", "scale": {"domain": [-37.65, 37.65], "nice": false, "zero": false},
        "axis": {"title": "ECG", "labels": false, "ticks": false, "domain": false, "grid": false, "titleAngle": 0, "titleAlign": "left", "titleBaseline": "middle", "titleX": -67, "titleY": 39.5, "titleFont": "DejaVu Sans", "titleFontSize": 18, "titleFontWeight": "normal", "titleColor": "black"}}
 }}
]
}
